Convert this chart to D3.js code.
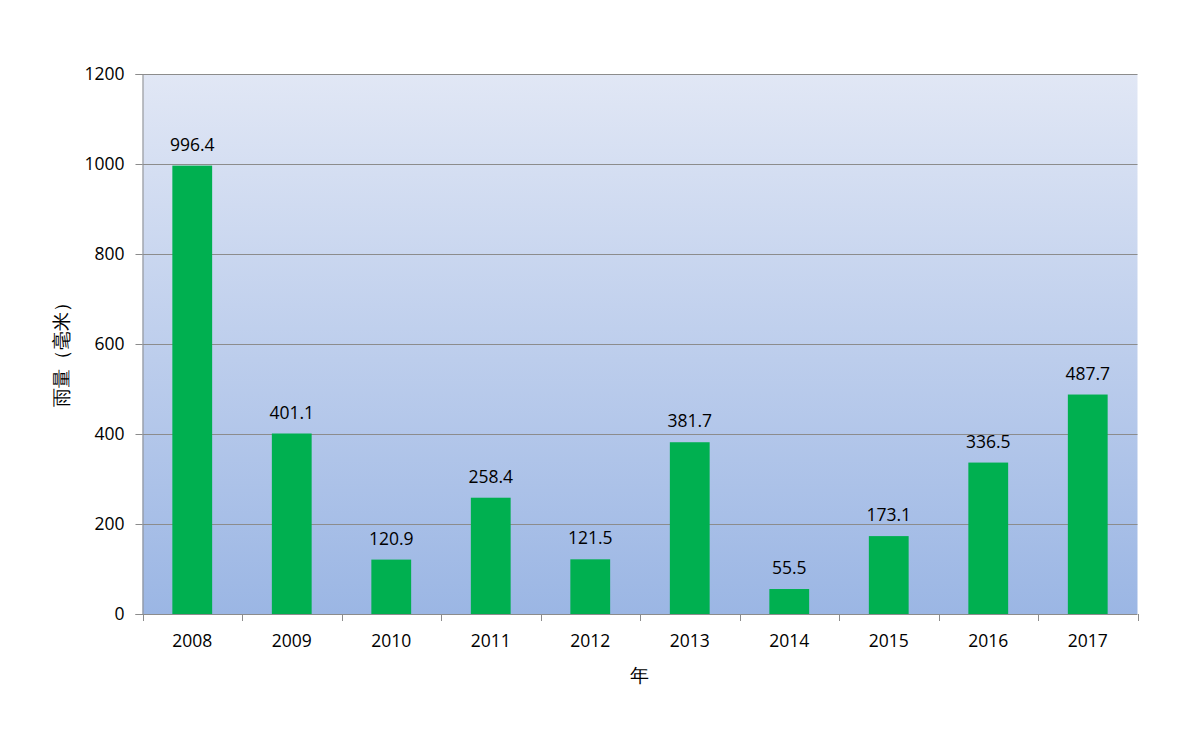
<!DOCTYPE html>
<html>
<head>
<meta charset="utf-8">
<script src="https://cdn.jsdelivr.net/npm/d3@7"></script>
<style>
  html, body { margin: 0; padding: 0; background: #fff; }
  svg { display: block; }
  text { font-family: "Open Sans", "Noto Sans", sans-serif; fill: #000; }
</style>
</head>
<body>
<svg id="chart" width="1182" height="729"></svg>
<script>
const years = ["2008","2009","2010","2011","2012","2013","2014","2015","2016","2017"];
const rainfall = [996.4, 401.1, 120.9, 258.4, 121.5, 381.7, 55.5, 173.1, 336.5, 487.7];
const yTicks = [0, 200, 400, 600, 800, 1000, 1200];
const yTitle = "雨量（毫米）";
const xTitle = "年";

const svg = d3.select("#chart");
const pL = 142.5, pR = 1137.5, pT = 74, pB = 614;
const FS = 17.5;

const x = d3.scaleBand().domain(years).range([pL, pR]).paddingInner(0.6).paddingOuter(0.3);
const xb = d3.scaleBand().domain(years).range([pL, pR]).padding(0);
const y = d3.scaleLinear().domain([0, 1200]).range([pB, pT]);

const defs = svg.append("defs");
const grad = defs.append("linearGradient").attr("id", "bg").attr("x1", 0).attr("y1", 0).attr("x2", 0).attr("y2", 1);
grad.append("stop").attr("offset", "0%").attr("stop-color", "#e1e7f5");
grad.append("stop").attr("offset", "100%").attr("stop-color", "#9bb6e4");

svg.append("rect").attr("x", pL).attr("y", pT).attr("width", pR - pL).attr("height", pB - pT).attr("fill", "url(#bg)");

// gridlines
svg.append("g").selectAll("line").data(yTicks.filter(d => d > 0)).join("line")
  .attr("x1", pL).attr("x2", pR).attr("y1", d => y(d) + 0.5).attr("y2", d => y(d) + 0.5)
  .attr("stroke", "#8c8c8c").attr("stroke-width", 1);

// bars
svg.append("g").selectAll("rect").data(years).join("rect")
  .attr("x", d => x(d)).attr("width", x.bandwidth())
  .attr("y", (d, i) => y(rainfall[i])).attr("height", (d, i) => pB - y(rainfall[i]))
  .attr("fill", "#00b050");

// data labels
svg.append("g").selectAll("text").data(years).join("text")
  .attr("x", d => x(d) + x.bandwidth() / 2)
  .attr("y", (d, i) => y(rainfall[i]) - 15)
  .attr("text-anchor", "middle").attr("font-size", FS)
  .text((d, i) => rainfall[i].toFixed(1));

// y axis
const yAxis = d3.axisLeft(y).tickValues(yTicks).tickSize(7).tickPadding(11).tickFormat(d3.format("d"));
const gy = svg.append("g").attr("transform", `translate(${pL},0)`).call(yAxis);
gy.selectAll("text").attr("font-size", FS).attr("font-family", '"Open Sans", "Noto Sans", sans-serif').attr("fill", "#000");
gy.select(".domain").attr("stroke", "#8c8c8c");
gy.selectAll(".tick line").attr("stroke", "#8c8c8c");

// x axis
const gx = svg.append("g").attr("transform", `translate(0,${pB})`);
gx.append("line").attr("x1", pL).attr("x2", pR).attr("y1", 0.5).attr("y2", 0.5).attr("stroke", "#8c8c8c");
const bounds = years.map(d => xb(d)).concat([pR]);
gx.selectAll(".xt").data(bounds).join("line").attr("class", "xt")
  .attr("x1", d => Math.round(d) + 0.5).attr("x2", d => Math.round(d) + 0.5)
  .attr("y1", 0).attr("y2", 7).attr("stroke", "#8c8c8c");
gx.selectAll("text").data(years).join("text")
  .attr("x", d => xb(d) + xb.bandwidth() / 2).attr("y", 33)
  .attr("text-anchor", "middle").attr("font-size", FS).text(d => d);

// titles
svg.append("text").attr("x", 639).attr("y", 682).attr("text-anchor", "middle")
  .attr("font-size", 19).attr("font-family", '"Noto Sans CJK SC", sans-serif').text(xTitle);
svg.append("text").attr("transform", "translate(68,350) rotate(-90)").attr("text-anchor", "middle")
  .attr("font-size", 19).attr("font-family", '"Noto Sans CJK SC", sans-serif').text(yTitle);
</script>
</body>
</html>
